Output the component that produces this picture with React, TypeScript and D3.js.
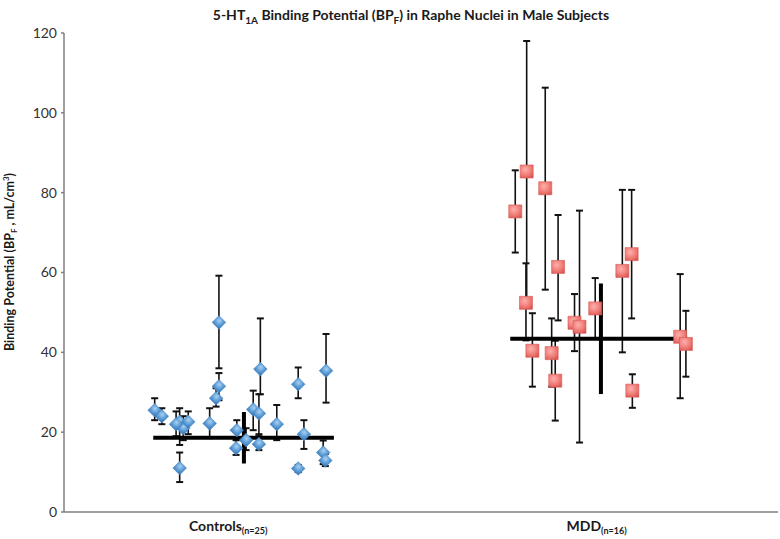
import React from "react";
import * as d3 from "d3";

// ---- Data ----
const yTicks = [0, 20, 40, 60, 80, 100, 120];

// Controls: jitter position (arbitrary x units), BP value, error bar low/high
const ctrlX = [1.27, 1.37, 1.62, 1.62, 1.67, 1.74, 1.57, 2.04, 2.13, 2.17, 2.17, 2.42, 2.41, 2.55, 2.65, 2.73, 2.75, 2.73, 2.98, 3.28, 3.36, 3.28, 3.63, 3.66, 3.67];
const ctrlY = [25.5, 24.0, 11.0, 22.6, 21.0, 22.6, 22.0, 22.2, 28.5, 31.5, 47.5, 20.5, 16.0, 18.0, 25.7, 24.7, 35.8, 17.0, 22.0, 32.0, 19.5, 10.9, 14.9, 12.9, 35.4];
const ctrlLo = [23.0, 22.0, 7.5, 16.8, 18.0, 19.5, 19.0, 18.5, 26.4, 28.0, 36.0, 18.0, 14.3, 15.5, 20.5, 19.0, 29.5, 15.5, 18.0, 28.5, 15.8, 10.0, 12.0, 11.5, 27.4];
const ctrlHi = [28.5, 26.0, 14.9, 26.0, 24.0, 25.2, 25.2, 26.0, 31.0, 34.8, 59.2, 23.0, 18.0, 21.0, 30.4, 29.5, 48.5, 19.5, 26.8, 36.2, 23.0, 11.8, 17.9, 14.5, 44.6];

// MDD
const mddX = [6.32, 6.48, 6.74, 6.92, 7.82, 7.95, 6.47, 6.56, 6.83, 6.88, 7.15, 7.22, 7.44, 7.96, 8.63, 8.71];
const mddY = [75.3, 85.3, 81.1, 61.4, 60.4, 64.6, 52.4, 40.4, 39.8, 32.9, 47.4, 46.4, 51.0, 30.4, 43.9, 42.1];
const mddLo = [65.0, 52.6, 55.7, 48.0, 40.0, 48.5, 43.0, 31.4, 31.4, 22.9, 40.3, 17.4, 43.4, 26.1, 28.5, 33.9];
const mddHi = [85.6, 118.0, 106.3, 74.4, 80.7, 80.7, 62.3, 49.8, 48.5, 42.9, 54.6, 75.5, 58.6, 34.5, 59.6, 50.4];

// Group summary: mean line span, mean, SD bar position, SD
const groupNames = ["Controls", "MDD"];
const groupN = ["(n=25)", "(n=16)"];
const groupLabelX = [2.3, 7.46];
const meanX0 = [1.25, 6.25];
const meanX1 = [3.78, 8.73];
const meanVal = [18.6, 43.4];
const sdX = [2.52, 7.52];
const sdVal = [6.45, 13.85];

const W = 780;
const H = 539;
const left = 64;
const right = 778;
const top = 33;
const bottom = 512;

export default function App() {
  const x = d3.scaleLinear().domain([0, 10]).range([left, right]);
  const y = d3.scaleLinear().domain([0, 120]).range([bottom, top]);
  const diamond = d3.symbol().type(d3.symbolSquare).size(92)() as string;
  const square = d3.symbol().type(d3.symbolSquare).size(170)() as string;
  const font = "Lato, 'Open Sans', sans-serif";
  const cap = 3.5;

  const errBar = (xv: number, lo: number, hi: number, k: string) => (
    <g key={k} stroke="#111" strokeWidth={1.6}>
      <line x1={x(xv)} x2={x(xv)} y1={y(lo)} y2={y(hi)} />
      <line x1={x(xv) - cap} x2={x(xv) + cap} y1={y(lo)} y2={y(lo)} strokeWidth={2} />
      <line x1={x(xv) - cap} x2={x(xv) + cap} y1={y(hi)} y2={y(hi)} strokeWidth={2} />
    </g>
  );

  return (
    <svg width={W} height={H} style={{ position: "absolute", left: 0, top: 0, background: "#fff" }} fontFamily={font}>
      <defs>
        <radialGradient id="gBlue" cx="40%" cy="35%" r="70%">
          <stop offset="0%" stopColor="#a9d0f2" />
          <stop offset="60%" stopColor="#5f9fd8" />
          <stop offset="100%" stopColor="#3f7fc0" />
        </radialGradient>
        <radialGradient id="gRed" cx="40%" cy="35%" r="75%">
          <stop offset="0%" stopColor="#fbb0ac" />
          <stop offset="60%" stopColor="#f07b76" />
          <stop offset="100%" stopColor="#d95550" />
        </radialGradient>
      </defs>

      {/* Title */}
      <text x={411} y={20} textAnchor="middle" fontSize={14} fontWeight="bold" fill="#1a1a1a">
        5-HT<tspan fontSize={10} dy={4}>1A</tspan>
        <tspan dy={-4}> Binding Potential (BP</tspan>
        <tspan fontSize={10} dy={4}>F</tspan>
        <tspan dy={-4}>) in Raphe Nuclei in Male Subjects</tspan>
      </text>

      {/* Y axis */}
      <line x1={left} x2={left} y1={top} y2={bottom} stroke="#7f7f7f" strokeWidth={1.5} />
      {yTicks.map((t) => (
        <g key={t}>
          <line x1={left - 3} x2={left} y1={y(t)} y2={y(t)} stroke="#7f7f7f" strokeWidth={1.5} />
          <text x={left - 7} y={y(t)} dy="0.35em" textAnchor="end" fontSize={14} fill="#333">
            {t}
          </text>
        </g>
      ))}
      {/* X axis */}
      <line x1={left} x2={right} y1={bottom} y2={bottom} stroke="#7f7f7f" strokeWidth={1.5} />

      {/* Y label */}
      <text transform="translate(14,262) rotate(-90)" textAnchor="middle" fontSize={12.5} fontWeight="bold" fill="#1a1a1a">
        Binding Potential (BP<tspan fontSize={8} dy={3}>F</tspan>
        <tspan dy={-3}> , mL/cm</tspan>
        <tspan fontSize={8} dy={-5}>3</tspan>
        <tspan dy={5}>)</tspan>
      </text>

      {/* Group labels */}
      {groupNames.map((g, i) => (
        <text key={g} x={x(groupLabelX[i])} y={531} textAnchor="middle" fontSize={14} fontWeight="bold" fill="#1a1a1a">
          {g}
          <tspan fontSize={9} dy={3}>{groupN[i]}</tspan>
        </text>
      ))}

      {/* Error bars */}
      {ctrlX.map((xv, i) => errBar(xv, ctrlLo[i], ctrlHi[i], "ce" + i))}
      {mddX.map((xv, i) => errBar(xv, mddLo[i], mddHi[i], "me" + i))}

      {/* Mean +/- SD */}
      {meanVal.map((m, i) => (
        <g key={"m" + i} stroke="#000" strokeWidth={4}>
          <line x1={x(meanX0[i])} x2={x(meanX1[i])} y1={y(m)} y2={y(m)} />
          <line x1={x(sdX[i])} x2={x(sdX[i])} y1={y(m - sdVal[i])} y2={y(m + sdVal[i])} />
        </g>
      ))}

      {/* Markers */}
      {ctrlX.map((xv, i) => (
        <path key={"c" + i} d={diamond} transform={`translate(${x(xv)},${y(ctrlY[i])}) rotate(45)`} fill="url(#gBlue)" stroke="#4a86c0" strokeWidth={0.6} />
      ))}
      {mddX.map((xv, i) => (
        <path key={"d" + i} d={square} transform={`translate(${x(xv)},${y(mddY[i])})`} fill="url(#gRed)" stroke="#d65a55" strokeWidth={0.6} />
      ))}
    </svg>
  );
}
